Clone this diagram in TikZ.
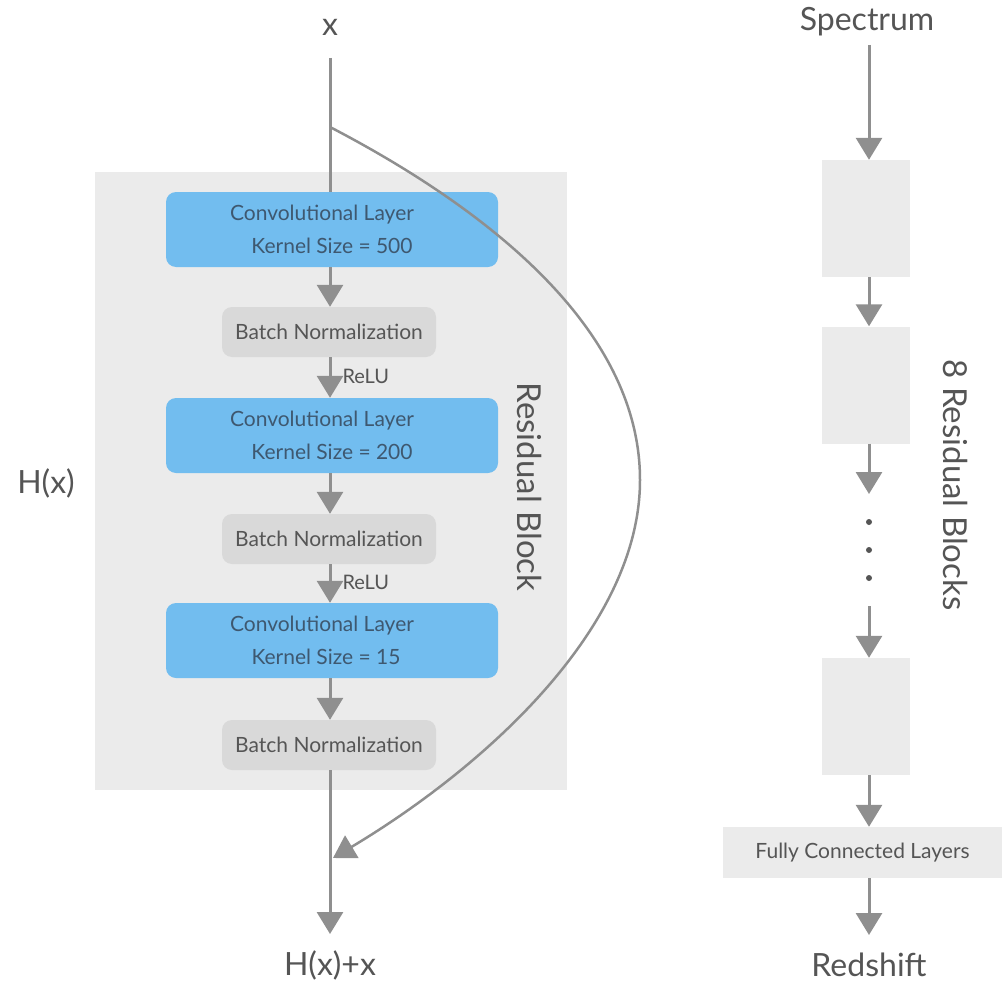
\documentclass[tikz,border=0pt]{standalone}
\usepackage{fontspec}
\setmainfont{Lato}
\usetikzlibrary{arrows.meta}
\definecolor{convblue}{HTML}{72BDEF}
\definecolor{convtext}{HTML}{3E5870}
\definecolor{bngray}{HTML}{D9D9D9}
\definecolor{bggray}{HTML}{EBEBEB}
\definecolor{arrgray}{HTML}{8F8F8F}
\definecolor{labeltext}{HTML}{555555}
\begin{document}
\begin{tikzpicture}[x=1pt,y=-1pt,
  conv/.style={fill=convblue, rounded corners=10pt, minimum width=332pt, minimum height=75pt,
    text=convtext, font=\fontsize{21}{33}\selectfont, align=center, inner sep=0pt},
  bn/.style={fill=bngray, rounded corners=10pt, minimum width=214pt, minimum height=50pt,
    text=labeltext, font=\fontsize{21}{24}\selectfont, inner sep=0pt},
  rblock/.style={fill=bggray, minimum width=88pt, minimum height=117pt, inner sep=0pt},
  big/.style={text=labeltext, font=\fontsize{32}{36}\selectfont, inner sep=0pt},
  small/.style={text=labeltext, font=\fontsize{20}{22}\selectfont, inner sep=0pt},
  arr/.style={draw=arrgray, line width=3pt, -{Triangle[width=26pt,length=22pt]}},
  ln/.style={draw=arrgray, line width=3pt},
  dot/.style={circle, fill=labeltext, minimum size=6pt, inner sep=0pt}
]
\useasboundingbox (0,0) rectangle (1002,990);
% residual block background
\fill[bggray] (95,172) rectangle (567,790);

% left column
\node[big] (xin) at (330,27) {x};
\coordinate (xstart) at (330,58);
\coordinate (split) at (330,127);
\node[conv] (c1) at (332,229.5) {Convolutional Layer\hspace*{20pt}\\Kernel Size = 500};
\node[bn] (b1) at (329,332) {Batch Normalization};
\node[conv] (c2) at (332,435.5) {Convolutional Layer\hspace*{20pt}\\Kernel Size = 200};
\node[bn] (b2) at (329,539) {Batch Normalization};
\node[conv] (c3) at (332,640.5) {Convolutional Layer\hspace*{20pt}\\Kernel Size = 15\hspace*{12pt}};
\node[bn] (b3) at (329,745) {Batch Normalization};
\coordinate (join) at (330,858);
\coordinate (out) at (330,934);
\node[big] (hxx) at (330,965) {H(x)+x};
\node[big] (hx) at (46,483) {H(x)};
\node[big, font=\fontsize{33}{36}\selectfont, rotate=-90] (rb) at (530,487) {Residual Block};

\draw[ln] (xstart) -- (c1.north -| xstart);
\draw[arr] (c1.south -| xstart) -- (b1.north -| xstart);
\draw[arr] (b1.south -| xstart) -- node[small, anchor=west, xshift=11pt, yshift=1pt] (relu1) {ReLU} (c2.north -| xstart);
\draw[arr] (c2.south -| xstart) -- (b2.north -| xstart);
\draw[arr] (b2.south -| xstart) -- node[small, anchor=west, xshift=11pt, yshift=1pt] (relu2) {ReLU} (c3.north -| xstart);
\draw[arr] (c3.south -| xstart) -- (b3.north -| xstart);
\draw[arr] (b3.south -| xstart) -- (out);
% skip connection
\draw[draw=arrgray, line width=2.5pt, -{Triangle[width=26pt,length=22pt]}]
  (split) .. controls (470,200) and (640,320) .. (640,480)
          .. controls (640,630) and (480,770) .. ([xshift=3pt]join);

% right column
\node[big] (spec) at (867,22) {Spectrum};
\node[rblock] (r1) at (866,218.5) {};
\node[rblock] (r2) at (866,385) {};
\node[dot] (d1) at (869,522) {};
\node[dot] (d2) at (869,550) {};
\node[dot] (d3) at (869,578) {};
\node[rblock] (r3) at (866,716.5) {};
\node[fill=bggray, minimum width=279pt, minimum height=51pt, inner sep=0pt,
      text=labeltext, font=\fontsize{21}{24}\selectfont] (fc) at (862.5,852.5) {Fully Connected Layers};
\node[big] (red) at (869,965) {Redshift};
\node[big, font=\fontsize{33}{36}\selectfont, rotate=-90] (rbs) at (956,485) {8 Residual Blocks};

\coordinate (specstart) at (869,45);
\coordinate (dotsin) at (869,494);
\coordinate (dotsout) at (869,606);
\coordinate (redin) at (869,935);
\draw[arr] (specstart) -- (r1.north -| specstart);
\draw[arr] (r1.south -| specstart) -- (r2.north -| specstart);
\draw[arr] (r2.south -| specstart) -- (dotsin);
\draw[arr] (dotsout) -- (r3.north -| specstart);
\draw[arr] (r3.south -| specstart) -- (fc.north -| specstart);
\draw[arr] (fc.south -| specstart) -- (redin);
\end{tikzpicture}
\end{document}
